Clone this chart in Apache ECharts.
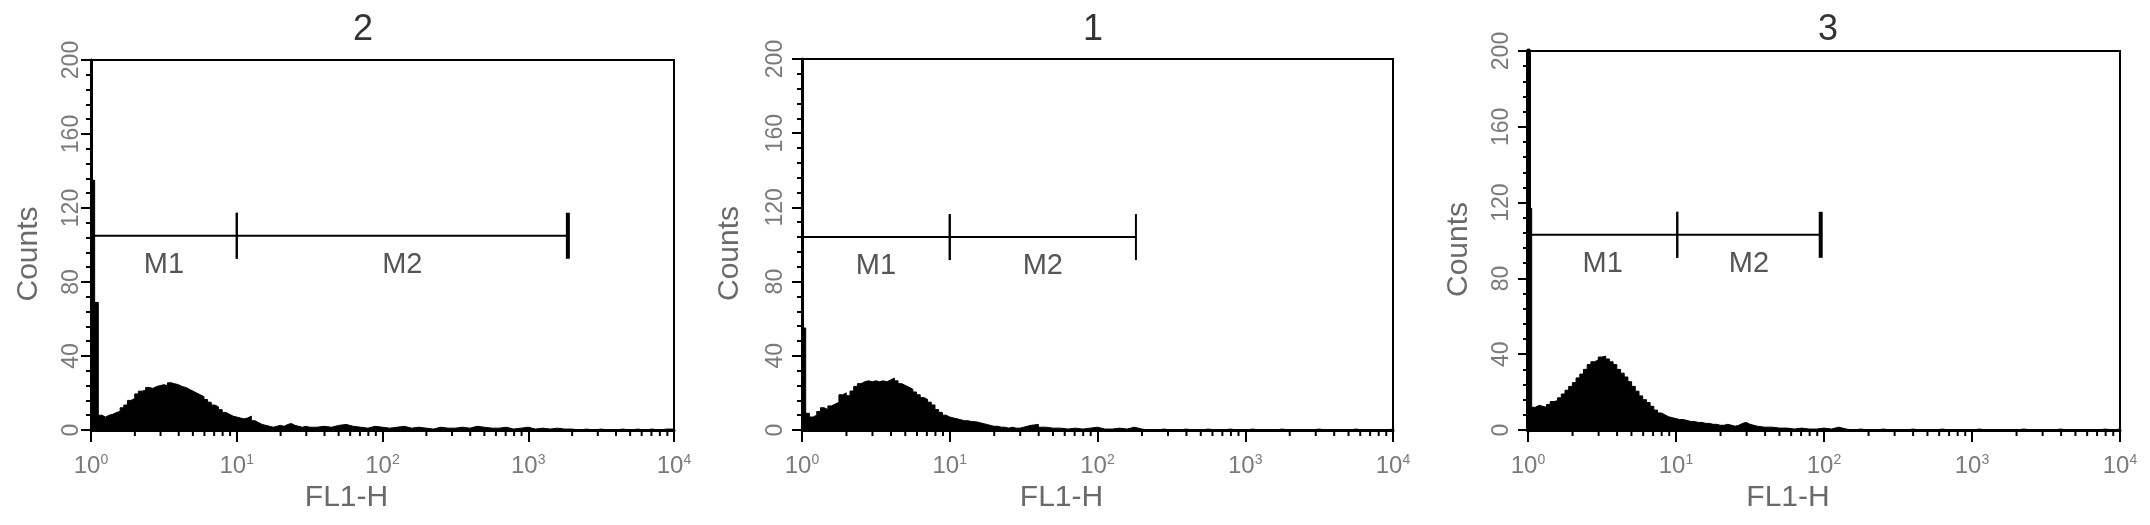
<!DOCTYPE html>
<html><head><meta charset="utf-8">
<script src="https://cdn.jsdelivr.net/npm/echarts@6/dist/echarts.min.js"></script>
<style>html,body{margin:0;padding:0;background:#fff}#c{width:2150px;height:525px}</style>
</head><body><div id="c"></div>
<script>
// ---------- DATA ----------
const sampleTitles = ['2', '1', '3'];
const xTickLabels = ['0', '1', '2', '3', '4'];        // superscripts of 10^n
const yTickValues = [0, 40, 80, 120, 160, 200];
const yTickLabels = ['0', '40', '80', '120', '160', '200'];
const gateNames = ['M1', 'M2'];

// FL1-H channel positions, in decades (10^d)
const channelDecades = [
  0, 0.025, 0.05, 0.075, 0.1, 0.125, 0.15, 0.175, 0.2, 0.225, 0.25, 0.275, 0.3, 0.325, 0.35, 0.375,
  0.4, 0.425, 0.45, 0.475, 0.5, 0.525, 0.55, 0.575, 0.6, 0.625, 0.65, 0.675, 0.7, 0.725, 0.75, 0.775,
  0.8, 0.825, 0.85, 0.875, 0.9, 0.925, 0.95, 0.975, 1.0, 1.025, 1.05, 1.075, 1.1, 1.125, 1.15, 1.175,
  1.2, 1.225, 1.25, 1.275, 1.3, 1.325, 1.35, 1.375, 1.4, 1.425, 1.45, 1.475, 1.5,
  1.55, 1.6, 1.65, 1.7, 1.75, 1.8, 1.85, 1.9, 1.95, 2.0, 2.05, 2.1, 2.15, 2.2, 2.25, 2.3, 2.35, 2.4,
  2.45, 2.5, 2.55, 2.6, 2.65, 2.7, 2.75, 2.8, 2.85, 2.9, 2.95, 3.0, 3.05, 3.1, 3.15, 3.2, 3.25, 3.3,
  3.35, 3.4, 3.45, 3.5, 3.55, 3.6, 3.65, 3.7, 3.75, 3.8, 3.85, 3.9, 3.95, 4.0
];

// Counts, sample "2"
const countsSample2 = [
  135, 69, 8, 7, 8, 8.5, 9.5, 10, 12, 13.5, 16, 17, 19.5, 21, 21.5, 23, 22.5, 23.5, 24, 24.5, 24, 25.5,
  25, 24.5, 23.5, 23, 22, 21, 20, 19, 18, 16.5, 15, 13.5, 12.5, 11, 9.5, 8.5, 7.5, 7, 6.5, 6, 6.5, 7.5,
  5, 4, 3, 2.5, 2, 1.5, 2, 2.5, 2, 3, 3.5, 2.5, 2, 1.5, 2, 1.5, 1.5,
  2, 1.5, 2.5, 3, 2, 1.5, 1, 2, 1.5, 1, 1.5, 2, 1, 1.5, 1, 0.5, 1.5, 1, 1, 1.5, 1, 2, 1.5, 1, 1, 1.5,
  0.5, 1, 1.5, 0.5, 1, 0.5, 1, 0.5, 0.5, 0, 0.5, 0, 0.5, 0, 0, 0.5, 0, 0.5, 0, 0.5, 0, 0.5, 0.5, 1
];
// Counts, sample "1"
const countsSample1 = [
  55, 9, 7, 8, 10, 12, 11, 13, 14, 15, 19, 20, 18.5, 21, 23.5, 25, 26, 26.5, 26, 26.5, 26, 26.5, 26, 27,
  28, 26.5, 25, 24, 23, 22, 20.5, 19, 17.5, 16.5, 15, 13.5, 11, 9.5, 8, 7, 6.5, 6, 5.5, 5, 5, 4.5, 4.5,
  4, 3.5, 3, 2.5, 2, 2, 1.5, 1.5, 1, 1.5, 1, 1, 1.5, 2.5,
  3, 1.5, 1, 1, 0.5, 1, 0.5, 1, 1.5, 0.5, 0.5, 1, 0.5, 1.5, 0.5, 0, 0, 0.5, 0, 0, 0.5, 0, 0, 0.5, 0,
  0, 0.5, 0, 0, 0.5, 0, 0, 0, 0.5, 0, 0, 0, 0, 0.5, 0, 0, 0, 0, 0.5, 0, 0, 0, 0, 0.5, 1
];
// Counts, sample "3"
const countsSample3 = [
  117, 12, 13, 12.5, 12, 13.5, 15, 15.5, 17, 19, 21, 23, 25, 27.5, 29.5, 32, 34.5, 36, 37, 38.5, 39,
  37.5, 36, 34.5, 32, 30, 28, 25.5, 23, 20.5, 18, 16, 14.5, 12.5, 10.5, 9, 8, 7, 6.5, 6, 5.5, 5.5, 5,
  4.5, 4.5, 4, 4, 3.5, 3.5, 3, 3, 2.5, 2.5, 3, 2.5, 2, 2.5, 3.5, 4, 3, 2,
  1.5, 1.5, 1, 1, 0.5, 1, 0.5, 0.5, 1, 0.5, 1.5, 0.5, 0, 0.5, 0, 0, 0.5, 0, 0, 0, 0.5, 0, 0, 0, 0.5,
  0, 0, 0, 0, 0.5, 0, 0, 0, 0, 0, 0.5, 0, 0, 0, 0, 0.5, 0, 0, 0, 0, 0, 0.5, 0, 0.5, 1
];

// Marker gates: [from, to] in FL1-H units, and the marker height in counts
const gatesSample2 = [[1, 10], [10, 1870]];
const gatesSample1 = [[1, 10], [10, 182]];
const gatesSample3 = [[1, 10.2], [10.2, 95]];
const gateLevels = [105, 104, 103];

// ---------- LAYOUT / STYLE ----------
const FONT = '"Liberation Sans", Arial, Helvetica, sans-serif';
const layout = [
  {left: 91,   top: 60, width: 583, height: 370, titleX: 363,  nameGap: 47, labelMargin: 8,  yAxisWidth: 3, thickEnd: true},
  {left: 802,  top: 59, width: 591, height: 371, titleX: 1093, nameGap: 57, labelMargin: 15, yAxisWidth: 3, thickEnd: false},
  {left: 1528, top: 51, width: 592, height: 379, titleX: 1828, nameGap: 54, labelMargin: 15, yAxisWidth: 5, thickEnd: true}
];

const panels = [
  {title: sampleTitles[0], counts: countsSample2, gates: gatesSample2, level: gateLevels[0]},
  {title: sampleTitles[1], counts: countsSample1, gates: gatesSample1, level: gateLevels[1]},
  {title: sampleTitles[2], counts: countsSample3, gates: gatesSample3, level: gateLevels[2]}
];

// minor log ticks (2..9 x 10^k)
const minorTickValues = [];
for (let k = 0; k < 4; k++) for (let m = 2; m <= 9; m++) minorTickValues.push(m * Math.pow(10, k));

const chart = echarts.init(document.getElementById('c'), null, {renderer: 'canvas'});
const option = {animation: false, backgroundColor: '#fff', grid: [], xAxis: [], yAxis: [], series: [], graphic: []};

panels.forEach((p, i) => {
  const L = layout[i];
  option.grid.push({left: L.left, top: L.top, width: L.width, height: L.height, show: true,
    borderColor: '#000', borderWidth: 2, backgroundColor: 'transparent', containLabel: false, outerBoundsMode: 'none'});
  option.xAxis.push({
    type: 'log', logBase: 10, min: 1, max: 10000, gridIndex: i,
    name: 'FL1-H', nameLocation: 'middle', nameGap: 53,
    nameTextStyle: {fontFamily: FONT, fontSize: 30, color: '#6a6a6a', padding: [0, 72, 0, 0]},
    axisLine: {show: true, lineStyle: {color: '#000', width: 3}},
    axisTick: {show: true, length: 12, lineStyle: {color: '#000', width: 2}},
    splitLine: {show: false}, minorSplitLine: {show: false},
    axisLabel: {
      margin: 23,
      formatter: v => '{b|10}{s|' + xTickLabels[Math.round(Math.log10(v))] + '}',
      rich: {
        b: {fontFamily: FONT, fontSize: 24, color: '#7a7a7a', lineHeight: 26},
        s: {fontFamily: FONT, fontSize: 14, color: '#7a7a7a', lineHeight: 26, verticalAlign: 'top'}
      }
    }
  });
  option.yAxis.push({
    type: 'value', min: 0, max: 200, interval: 40, gridIndex: i,
    name: 'Counts', nameLocation: 'middle', nameGap: L.nameGap,
    nameTextStyle: {fontFamily: FONT, fontSize: 30, color: '#6a6a6a', padding: [0, 18, 0, 0]},
    axisLine: {show: true, lineStyle: {color: '#000', width: L.yAxisWidth}},
    axisTick: {show: true, length: 10, lineStyle: {color: '#000', width: 2}},
    minorTick: {show: true, splitNumber: 5, length: 5, lineStyle: {color: '#000', width: 2}},
    splitLine: {show: false}, minorSplitLine: {show: false},
    axisLabel: {rotate: 90, margin: L.labelMargin, fontFamily: FONT, fontSize: 23, color: '#7a7a7a',
      formatter: v => yTickLabels[yTickValues.indexOf(v)]}
  });
  option.series.push({
    type: 'line', xAxisIndex: i, yAxisIndex: i, symbol: 'none', showSymbol: false, smooth: false, step: 'end',
    data: channelDecades.map((d, k) => [Math.pow(10, d), p.counts[k]]),
    lineStyle: {color: '#000', width: 1}, areaStyle: {color: '#000', opacity: 1}, z: 3, silent: true
  });
  option.series.push({
    type: 'custom', xAxisIndex: i, yAxisIndex: i, silent: true, z: 6, clip: false,
    data: minorTickValues.map(v => [v, 0]),
    renderItem: (params, api) => {
      const pt = api.coord([api.value(0), 0]);
      return {type: 'line', shape: {x1: pt[0], y1: pt[1], x2: pt[0], y2: pt[1] + 6}, style: {stroke: '#000', lineWidth: 2}};
    }
  });
  option.series.push({
    type: 'custom', xAxisIndex: i, yAxisIndex: i, silent: true, z: 7, clip: false,
    encode: {x: [0, 1], y: 2},
    data: p.gates.map((g, k) => ({name: gateNames[k], value: [g[0], g[1], p.level]})),
    renderItem: (params, api) => {
      const x1 = api.value(0), x2 = api.value(1), lvl = api.value(2);
      const a = api.coord([x1, lvl]), b = api.coord([x2, lvl]);
      const mid = api.coord([Math.sqrt(x1 * x2), lvl]);
      const last = params.dataIndex === p.gates.length - 1;
      const endW = (last && L.thickEnd) ? 4 : 2;
      return {type: 'group', children: [
        {type: 'line', shape: {x1: a[0], y1: a[1], x2: b[0], y2: b[1]}, style: {stroke: '#000', lineWidth: 2}},
        {type: 'line', shape: {x1: a[0], y1: a[1] - 23, x2: a[0], y2: a[1] + 23}, style: {stroke: '#000', lineWidth: 2}},
        {type: 'line', shape: {x1: b[0], y1: b[1] - 23, x2: b[0], y2: b[1] + 23}, style: {stroke: '#000', lineWidth: endW}},
        {type: 'text', x: mid[0], y: mid[1] + 29, style: {text: gateNames[params.dataIndex], fontFamily: FONT, fontSize: 29,
          fill: '#555', align: 'center', verticalAlign: 'middle'}}
      ]};
    }
  });
  option.graphic.push({type: 'text', x: L.titleX, y: 30, silent: true,
    style: {text: p.title, fontFamily: FONT, fontSize: 36, fill: '#333', align: 'center', verticalAlign: 'middle'}});
});

chart.setOption(option);
</script>
</body></html>
